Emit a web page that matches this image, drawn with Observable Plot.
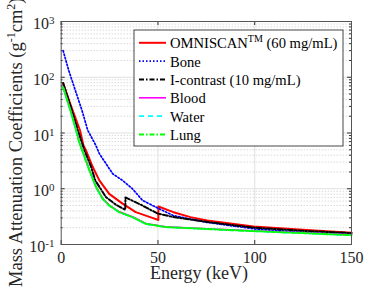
<!DOCTYPE html>
<html><head><meta charset="utf-8">
<script src="https://cdn.jsdelivr.net/npm/d3@7"></script>
<script src="https://cdn.jsdelivr.net/npm/@observablehq/plot@0.6"></script>
<style>body{margin:0;background:#fff} #chart{width:388px;height:290px;position:relative}</style>
</head><body><div id="chart"></div>
<script>
// ---- data ----
const legendLabels = ["OMNISCAN", "Bone", "I-contrast (10 mg/mL)", "Blood", "Water", "Lung"];
const omniE = [1, 5, 9.7, 11.5, 12.8, 16.3, 19.7, 24.8, 31.7, 38.5, 47.1, 50.2, 50.2, 58, 66.8, 75.4, 99.3, 126.8, 150];
const omniV = [78, 31, 11.2, 6.0, 4.9, 2.45, 1.41, 0.81, 0.54, 0.38, 0.30, 0.275, 0.48, 0.38, 0.31, 0.27, 0.21, 0.182, 0.163];
const boneE = [1, 3.9, 10.8, 13.7, 17.9, 19.7, 26.6, 31.7, 36.8, 42, 48.8, 58, 75, 100, 125, 150];
const boneV = [300, 132, 25, 11.2, 6.0, 4.27, 1.86, 1.41, 1.0, 0.62, 0.47, 0.33, 0.25, 0.19, 0.165, 0.152];
const iodE = [1, 5, 8.6, 12, 15.5, 17.6, 23.1, 28.5, 33.1, 33.2, 42, 49.7, 58, 75, 100, 126, 150];
const iodV = [79, 29, 11.2, 4.9, 2.45, 1.41, 0.71, 0.51, 0.42, 0.70, 0.50, 0.36, 0.31, 0.255, 0.20, 0.175, 0.16];
const tissueE = [1, 5, 7.7, 9.5, 11.1, 14.6, 18, 21.4, 24.8, 30, 36.8, 43.7, 54, 75, 99, 125, 150];
const bloodV = [67, 24.5, 11.4, 6.6, 4.7, 2.17, 1.09, 0.67, 0.51, 0.385, 0.315, 0.238, 0.207, 0.192, 0.176, 0.162, 0.149];
const waterV = [65, 23.5, 11.0, 6.4, 4.55, 2.1, 1.06, 0.655, 0.495, 0.377, 0.307, 0.233, 0.204, 0.189, 0.173, 0.159, 0.146];
const lungV = [66, 24, 11.2, 6.5, 4.6, 2.13, 1.07, 0.66, 0.50, 0.38, 0.31, 0.235, 0.205, 0.19, 0.174, 0.16, 0.147];
const xTicks = [0, 50, 100, 150];
const yMajor = [0.1, 1, 10, 100, 1000];
const yExp = ["-1", "0", "1", "2", "3"];

const rows = (E, V) => E.map((e, i) => ({e, v: V[i]}));
const styles = [
  {d: rows(omniE, omniV), stroke: "#ff0000", w: 2, dash: null},
  {d: rows(boneE, boneV), stroke: "#0000ff", w: 1.7, dash: "1.5,2"},
  {d: rows(iodE, iodV), stroke: "#000000", w: 2, dash: "5,2,1.5,2"},
  {d: rows(tissueE, bloodV), stroke: "#ff00ff", w: 1.6, dash: null},
  {d: rows(tissueE, waterV), stroke: "#00ffff", w: 1.6, dash: "5,4"},
  {d: rows(tissueE, lungV), stroke: "#00ff00", w: 2, dash: "5,2,1.5,2"}
];
const yMinor = d3.scaleLog().domain([0.1, 1000]).ticks(10).filter(t => !yMajor.some(m => Math.abs(m - t) / m < 1e-9));

const W = 388, H = 290, mL = 60.7, mR = 37, mT = 21, mB = 46;
const fw = W - mL - mR, fh = H - mT - mB;
const font = "Liberation Serif, Times New Roman, serif";

const plot = Plot.plot({
  width: W, height: H,
  marginLeft: mL, marginRight: mR, marginTop: mT, marginBottom: mB,
  style: {fontFamily: font, background: "#fff", overflow: "visible"},
  x: {domain: [0, 150]},
  y: {type: "log", domain: [0.1, 1000], axis: null},
  marks: [
    Plot.gridY(yMinor, {stroke: "#c8c8c8", strokeOpacity: 1, strokeDasharray: "1,2"}),
    Plot.gridY(yMajor, {stroke: "#e0e0e0", strokeOpacity: 1}),
    Plot.gridX([50, 100], {stroke: "#e0e0e0", strokeOpacity: 1}),
    ...styles.map(s => Plot.line(s.d, {x: "e", y: "v", stroke: s.stroke, strokeWidth: s.w, strokeDasharray: s.dash})),
    Plot.ruleX(xTicks, {stroke: "#333", insetTop: fh - 4}),
    Plot.ruleX(xTicks, {stroke: "#333", insetBottom: fh - 4}),
    Plot.ruleY(yMajor, {stroke: "#333", insetRight: fw - 4}),
    Plot.ruleY(yMajor, {stroke: "#333", insetLeft: fw - 4}),
    Plot.ruleY(yMinor, {stroke: "#333", insetRight: fw - 2}),
    Plot.ruleY(yMinor, {stroke: "#333", insetLeft: fw - 2}),
    Plot.frame({stroke: "#555", strokeWidth: 1}),
    Plot.axisX(xTicks, {tickSize: 0, tickPadding: 7, fontSize: 16, fill: "#262626", label: null})
  ]
});
document.getElementById("chart").appendChild(plot);

const svg = d3.select(plot);
const ys = plot.scale("y");
// y tick labels with superscript exponents
yMajor.forEach((v, i) => {
  const t = svg.append("text").attr("x", 54.5).attr("y", ys.apply(v) + 8)
    .attr("text-anchor", "end").attr("font-family", font).attr("fill", "#262626");
  t.append("tspan").attr("font-size", 16).text("10");
  t.append("tspan").attr("font-size", 11).attr("dy", -5).text(yExp[i]);
});
// x label
svg.append("text").attr("x", 199).attr("y", 278.5).attr("text-anchor", "middle")
  .attr("font-family", font).attr("font-size", 18).attr("fill", "#262626").text("Energy (keV)");
// y label
const yl = svg.append("text").attr("transform", "translate(22,287) rotate(-90)").attr("text-anchor", "start")
  .attr("font-family", font).attr("font-size", 18.5).attr("fill", "#262626");
yl.append("tspan").text("Mass Attenuation Coefficients (g");
yl.append("tspan").attr("font-size", 12).attr("dy", -7).text("-1");
yl.append("tspan").attr("dy", 7).text("cm");
yl.append("tspan").attr("font-size", 12).attr("dy", -7).text("2");
yl.append("tspan").attr("dy", 7).text(")");
// legend
const lg = svg.append("g");
lg.append("rect").attr("x", 134).attr("y", 30).attr("width", 209).attr("height", 116)
  .attr("fill", "#fff").attr("stroke", "#333").attr("stroke-width", 0.9);
styles.forEach((s, i) => {
  const base = 48.3 + i * 18.33;
  lg.append("line").attr("x1", 139).attr("x2", 166).attr("y1", base - 5.5).attr("y2", base - 5.5)
    .attr("stroke", s.stroke).attr("stroke-width", s.w).attr("stroke-dasharray", s.dash);
  const t = lg.append("text").attr("x", 170).attr("y", base).attr("text-anchor", "start")
    .attr("font-family", font).attr("font-size", 14.6).attr("fill", "#000");
  if (i === 0) {
    t.append("tspan").text("OMNISCAN");
    t.append("tspan").attr("font-size", 10).attr("dy", -6).text("TM");
    t.append("tspan").attr("dy", 6).text(" (60 mg/mL)");
  } else {
    t.text(legendLabels[i]);
  }
});
</script></body></html>
